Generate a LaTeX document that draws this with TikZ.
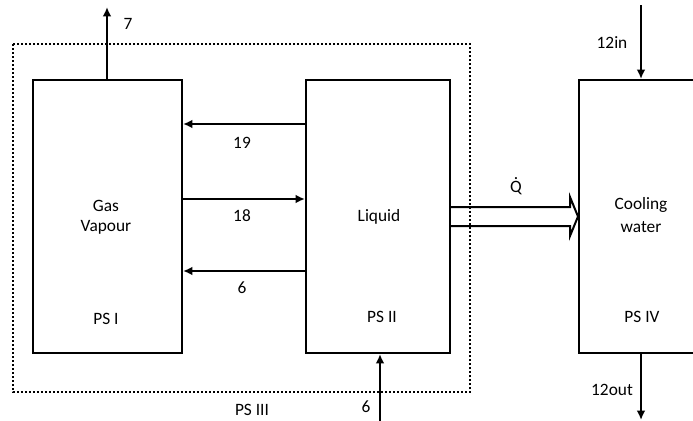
\documentclass[tikz,border=0pt]{standalone}
\usepackage{fontspec}
\setmainfont{Carlito}
\usetikzlibrary{arrows.meta}
\newcommand{\qdotsym}{\accent"02D9 Q}
\begin{document}
\begin{tikzpicture}[x=0.75pt,y=-0.75pt,
  box/.style={draw,line width=1.5pt,minimum width=#1,minimum height=204.75pt,inner sep=0pt},
  arr/.style={line width=1.5pt,-{Latex[length=7pt,width=6.5pt]}},
  lbl/.style={font=\fontsize{13}{15}\selectfont,inner sep=0pt},
  border/.style={line width=1.5pt,dash pattern=on 1.8pt off 1.2pt}]
\useasboundingbox (0,0) rectangle (693,421);
\clip (0,0) rectangle (693,421);
\node[box=111.75pt] (I) at (107.5,216.5) {};
\node[box=108pt] (II) at (378,216.5) {};
\node[box=111.75pt] (IV) at (653.5,216.5) {};
\draw[border] (13,44) rectangle (470,392);
% coordinates for connectors
\coordinate (t7) at (107,7);
\coordinate (r19) at (0,124);
\coordinate (r18) at (0,199);
\coordinate (r6) at (0,271);
\coordinate (b6) at (380,421);
\coordinate (t12) at (641,5);
\coordinate (b12) at (641,420);
\draw[arr] (t7 |- I.north) -- (t7);
\draw[arr] (r19 -| II.west) -- (r19 -| I.east);
\draw[arr] (r18 -| I.east) -- (r18 -| II.west);
\draw[arr] (r6 -| II.west) -- (r6 -| I.east);
\draw[arr] (b6) -- (b6 |- II.south);
\draw[arr] (t12) -- (t12 |- IV.north);
\draw[arr] (t12 |- IV.south) -- (b12);
% heat flow double arrow
\coordinate (q1) at (0,207);
\coordinate (q2) at (0,226);
\coordinate (qm) at (0,216.5);
\draw[line width=1.5pt,line join=miter] (q1 -| II.east) -- (570,207) -- (570,197) -- (qm -| IV.west) -- (570,236) -- (570,226) -- (q2 -| II.east);
% labels
\node[lbl] (l7) at (128,24) {7};
\node[lbl] (l19) at (242,143) {19};
\node[lbl] (l18) at (242,216) {18};
\node[lbl] (l6) at (242,288) {6};
\node[lbl] (gas) at (106,206) {Gas};
\node[lbl] (vap) at (106,227) {Vapour};
\node[lbl] (ps1) at (106,319) {PS I};
\node[lbl] (liq) at (379,217) {Liquid};
\node[lbl] (ps2) at (382,317) {PS II};
\node[lbl] (ps3) at (252,410) {PS III};
\node[lbl] (l6b) at (366,407) {6};
\node[lbl] (q) at (516,186) {\qdotsym};
\node[lbl] (cool) at (641,205) {Cooling};
\node[lbl] (wat) at (641,227) {water};
\node[lbl] (ps4) at (642,317) {PS IV};
\node[lbl] (in12) at (612,43) {12in};
\node[lbl] (out12) at (612,390) {12out};
\end{tikzpicture}
\end{document}
